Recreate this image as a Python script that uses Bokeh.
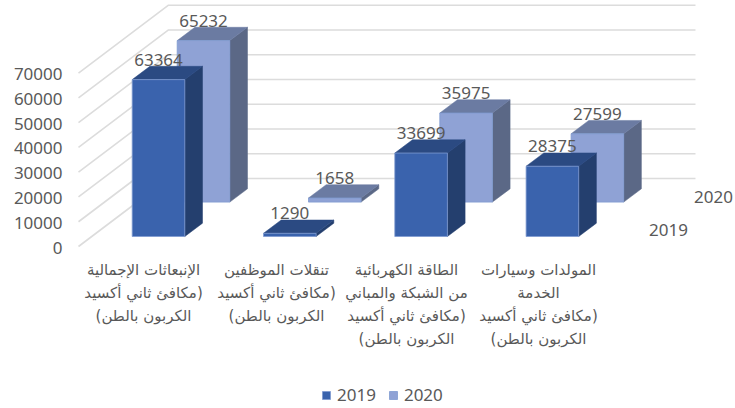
from bokeh.plotting import figure
from bokeh.embed import file_html
from bokeh.resources import INLINE
from bokeh.core.properties import value
from bokeh.models import FixedTicker, Legend, LegendItem, BasicTickFormatter, LinearAxis, Range1d

RLM = "\u200f"
series_names = ["2019", "2020"]
values_2019 = [63364, 1290, 33699, 28375]
values_2020 = [65232, 1658, 35975, 27599]
y_ticks = [0, 10000, 20000, 30000, 40000, 50000, 60000, 70000]
category_lines = [
    ["الإنبعاثات الإجمالية", RLM + "(مكافئ ثاني أكسيد", "الكربون بالطن)" + RLM],
    ["تنقلات الموظفين", RLM + "(مكافئ ثاني أكسيد", "الكربون بالطن)" + RLM],
    ["الطاقة الكهربائية", "من الشبكة والمباني", RLM + "(مكافئ ثاني أكسيد", "الكربون بالطن)" + RLM],
    ["المولدات وسيارات", "الخدمة", RLM + "(مكافئ ثاني أكسيد", "الكربون بالطن)" + RLM],
]

# layout: page-pixel calibration of the oblique projection
W, H = 735, 408
FRAME_L = 70
PX_PER_CAT = 131.3
ORIGIN_PX = 131.7
ZERO_PY = 246.0
PX_PER_VAL = 24.76 / 10000
AXIS_ZERO_PY = 247.5
AXIS_PX_PER_VAL = 24.9 / 10000


def X(px):
    return (px - ORIGIN_PX) / PX_PER_CAT


def Y(py):
    return (ZERO_PY - py) / PX_PER_VAL


def DX(dpx):
    return dpx / PX_PER_CAT


def DY(dpx):
    return dpx / PX_PER_VAL


GRID = "#dcdcdc"
TXT = "#595959"
FONT = "Noto Sans"
NUM_SIZE = "17px"

p = figure(width=W, height=H, output_backend="svg", toolbar_location=None,
           x_range=(X(FRAME_L), X(W)), y_range=(Y(H), Y(0)),
           min_border=0, min_border_left=FRAME_L, min_border_right=0,
           min_border_top=0, min_border_bottom=0,
           x_axis_location=None, y_axis_location=None, outline_line_color=None,
           margin=(0, 0, 0, 0))
p.xgrid.visible = False
p.ygrid.visible = False

p.extra_y_ranges = {"ticks": Range1d((AXIS_ZERO_PY - H) / AXIS_PX_PER_VAL, AXIS_ZERO_PY / AXIS_PX_PER_VAL)}
ax = LinearAxis(y_range_name="ticks")
ax.ticker = FixedTicker(ticks=y_ticks)
ax.formatter = BasicTickFormatter(use_scientific=False)
ax.axis_line_color = None
ax.major_tick_line_color = None
ax.minor_tick_line_color = None
ax.major_label_standoff = 2
ax.major_label_text_font = FONT
ax.major_label_text_font_size = NUM_SIZE
ax.major_label_text_color = TXT
p.add_layout(ax, "left")

# walls
wall_front_x, wall_back_x, wall_right_x = X(78), X(168), X(695)
wall_dy = DY(68)
p.multi_line([[wall_front_x, wall_back_x, wall_right_x] for _ in y_ticks],
             [[t, t + wall_dy, t + wall_dy] for t in y_ticks],
             line_color=GRID, line_width=1.6)

bar_w = DX(52.6)
bar_dx, bar_dy = DX(17.7), DY(13.3)
base_2019 = DY(10)
series_dx, series_dy = DX(45), DY(34.4)
styles = [
    ("#3a63ad", "#2b4a82", "#243f6e"),
    ("#8fa2d5", "#6b7ba2", "#5b6886"),
]
front_rends = []
for s, vals in reversed(list(enumerate([values_2019, values_2020]))):
    front_c, top_c, side_c = styles[s]
    fx, fy, tx, ty, sx, sy, lx, ly = [], [], [], [], [], [], [], []
    for i, v in enumerate(vals):
        x0 = i + s * series_dx
        x1 = x0 + bar_w
        b = base_2019 + s * series_dy
        t = b + v
        fx.append([x0, x1, x1, x0]); fy.append([b, b, t, t])
        tx.append([x0, x1, x1 + bar_dx, x0 + bar_dx]); ty.append([t, t, t + bar_dy, t + bar_dy])
        sx.append([x1, x1 + bar_dx, x1 + bar_dx, x1]); sy.append([b, b + bar_dy, t + bar_dy, t])
        lx.append((x0 + x1) / 2); ly.append(t)
    p.patches(sx, sy, fill_color=side_c, line_color=side_c, line_width=0.5)
    p.patches(tx, ty, fill_color=top_c, line_color=top_c, line_width=0.5)
    r = p.patches(fx, fy, fill_color=front_c, line_color="#7f9bd0", line_width=0.8)
    front_rends.insert(0, r)
    p.text(lx, ly, text=[str(v) for v in vals], text_align="center", text_baseline="middle",
           y_offset=-20, text_font=value(FONT), text_font_size=NUM_SIZE, text_color=TXT)

# series labels on the depth axis
p.text([X(668), X(713)], [Y(229), Y(196)], text=series_names, text_align="center",
       text_baseline="middle", text_font=value(FONT), text_font_size=NUM_SIZE, text_color=TXT)

# category labels
cat_centres = [143, 276, 406, 538]
line_py = [269, 292, 315, 338]
for c, lines in zip(cat_centres, category_lines):
    p.text([X(c)] * len(lines), [Y(line_py[j]) for j in range(len(lines))], text=lines,
           text_align="center", text_baseline="middle",
           text_font=value("DejaVu Sans"), text_font_size="15px", text_color=TXT)

legend = Legend(items=[LegendItem(label=n, renderers=[r]) for n, r in zip(series_names, front_rends)],
                orientation="horizontal", location=(322 - FRAME_L - 1, 2),
                background_fill_alpha=0, border_line_color=None,
                glyph_width=10, glyph_height=10, label_standoff=6, spacing=12,
                padding=5, margin=0,
                label_text_font=FONT, label_text_font_size=NUM_SIZE, label_text_color=TXT)
p.add_layout(legend, "center")

open("out.html", "w").write(file_html(p, INLINE))
